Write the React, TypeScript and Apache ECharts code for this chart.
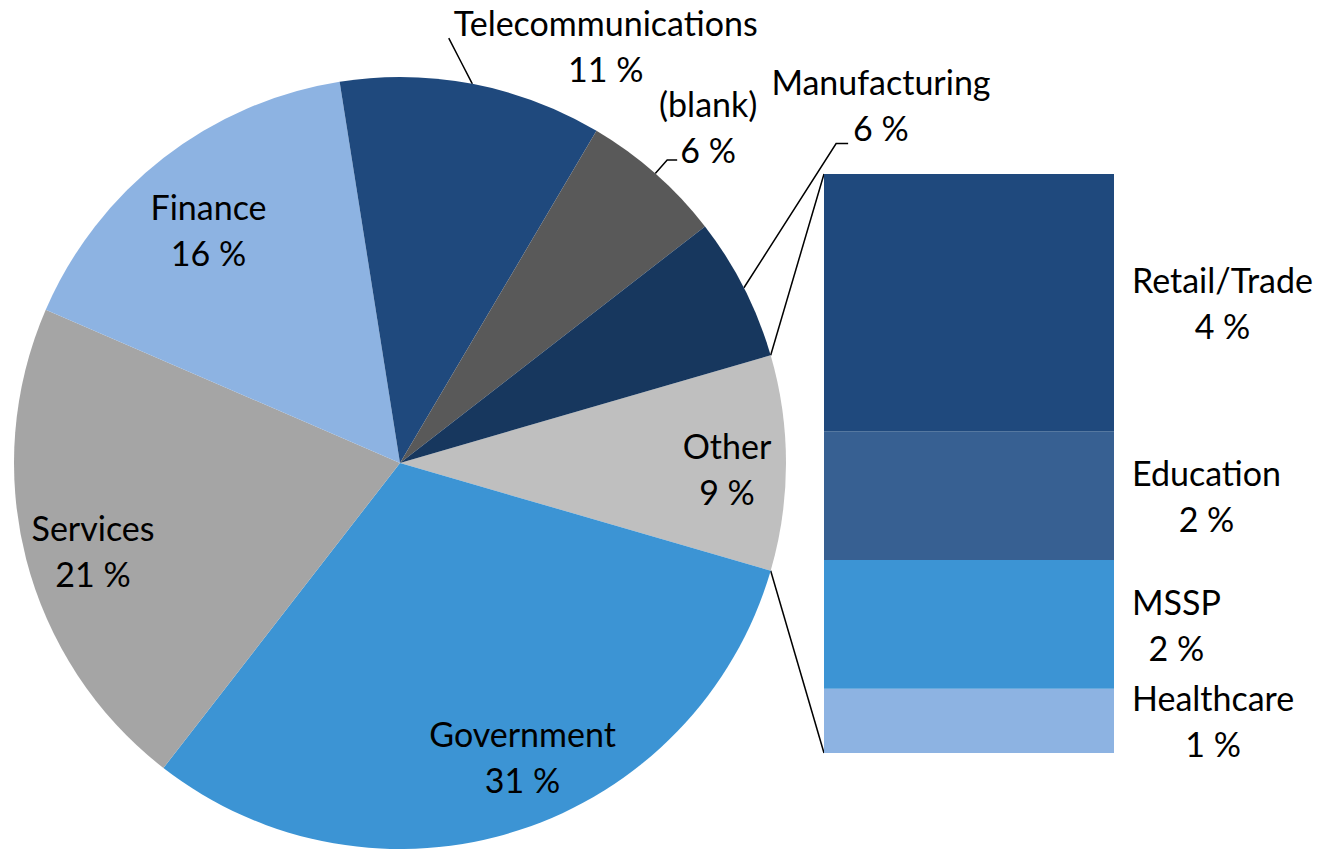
import React, { useEffect, useRef } from 'react';
import * as echarts from 'echarts';

// ---------- data ----------
const pieNames = ['Other', 'Government', 'Services', 'Finance', 'Telecommunications', '(blank)', 'Manufacturing'];
const pieValues = [9, 31, 21, 16, 11, 6, 6];
const pieColors = ['#BFBFBF', '#3C94D4', '#A5A5A5', '#8DB3E2', '#1F497D', '#595959', '#17375E'];

const otherNames = ['Healthcare', 'MSSP', 'Education', 'Retail/Trade'];
const otherValues = [1, 2, 2, 4];
const otherColors = ['#8DB3E2', '#3C94D4', '#376092', '#1F497D'];

const outsideLabelNames = ['Telecommunications', '(blank)', 'Manufacturing'];
const insideLabelNames = ['Other', 'Government', 'Services', 'Finance'];

// ---------- layout / style ----------
const WIDTH = 1327;
const HEIGHT = 849;
const PIE_CX = 400;
const PIE_CY = 463;
const PIE_R = 386;
const LABEL_RING_R0 = 246;
const GRID = { left: 824, top: 174, width: 290, height: 579 };
const FONT = 'Lato';
const FONT_SIZE = 34;
const LINE_H = 46;

// centre of outside label block relative to ECharts' default anchor; line = text line the leader line points to
const outsideTweak: Record<string, { cx: number; cy: number; line: number }> = {
  Telecommunications: { cx: 115, cy: -21, line: 0 },
  '(blank)': { cx: 26, cy: -33, line: -1 },
  Manufacturing: { cx: 106, cy: -175, line: 1 },
};
const insideTweak: Record<string, [number, number]> = {
  Finance: [4, 19],
  Services: [2, 8],
  Government: [24, -10],
  Other: [8, 5],
};

const pieTotal = pieValues.reduce((a, b) => a + b, 0);
const otherTotal = otherValues.reduce((a, b) => a + b, 0);
const otherIdx = pieNames.indexOf('Other');
const startAngle = (pieValues[otherIdx] / pieTotal) * 180;

const pct = (v: number) => `${Math.round((v / pieTotal) * 100)} %`;

const rich = {
  c: { align: 'center', fontFamily: FONT, fontSize: FONT_SIZE, lineHeight: LINE_H, color: '#000' },
};
const labelFormatter = (p: any) => `{c|${p.name}}\n{c|${pct(p.value)}}`;

let measureCtx: CanvasRenderingContext2D | null = null;
function textWidth(s: string): number {
  if (!measureCtx) measureCtx = document.createElement('canvas').getContext('2d');
  if (!measureCtx) return s.length * FONT_SIZE * 0.5;
  measureCtx.font = `${FONT_SIZE}px ${FONT}`;
  return measureCtx.measureText(s).width;
}

export default function App() {
  const ref = useRef<HTMLDivElement>(null);

  useEffect(() => {
    if (!ref.current) return;
    document.body.style.margin = '0';
    const chart = echarts.init(ref.current, null, { renderer: 'svg' });

    const pieData = pieNames.map((n, i) => {
      const out = outsideLabelNames.includes(n);
      return {
        name: n,
        value: pieValues[i],
        itemStyle: { color: pieColors[i] },
        label: { show: out },
        labelLine: { show: out },
      };
    });

    const ringData = pieNames.map((n, i) => {
      const ins = insideLabelNames.includes(n);
      return {
        name: n,
        value: pieValues[i],
        itemStyle: { color: 'rgba(0,0,0,0)' },
        label: { show: ins },
      };
    });

    const barSeries = otherNames.map((n, i) => ({
      type: 'bar',
      name: n,
      stack: 'other',
      barWidth: '100%',
      silent: true,
      data: [otherValues[i]],
      itemStyle: { color: otherColors[i] },
      label: {
        show: true,
        position: 'right',
        distance: 18,
        formatter: () => `{c|${n}}\n{c|${pct(otherValues[i])}}`,
        rich,
      },
    }));

    // connector lines between the "Other" slice and the bar of its breakdown
    const a1 = (startAngle * Math.PI) / 180;
    const a2 = ((startAngle - (pieValues[otherIdx] / pieTotal) * 360) * Math.PI) / 180;
    const pTop = [PIE_CX + PIE_R * Math.cos(a1), PIE_CY - PIE_R * Math.sin(a1)];
    const pBot = [PIE_CX + PIE_R * Math.cos(a2), PIE_CY - PIE_R * Math.sin(a2)];
    const barTopY = GRID.top;
    const barBotY = GRID.top + GRID.height;

    const option: any = {
      animation: false,
      backgroundColor: '#ffffff',
      tooltip: { show: false },
      grid: { left: GRID.left, top: GRID.top, width: GRID.width, height: GRID.height, containLabel: false },
      xAxis: { type: 'category', data: [''], show: false },
      yAxis: { type: 'value', min: 0, max: otherTotal, show: false },
      graphic: [
        {
          type: 'line',
          silent: true,
          shape: { x1: pTop[0], y1: pTop[1], x2: GRID.left, y2: barTopY },
          style: { stroke: '#000', lineWidth: 1.5 },
        },
        {
          type: 'line',
          silent: true,
          shape: { x1: pBot[0], y1: pBot[1], x2: GRID.left, y2: barBotY },
          style: { stroke: '#000', lineWidth: 1.5 },
        },
      ],
      series: [
        {
          type: 'pie',
          center: [PIE_CX, PIE_CY],
          radius: PIE_R,
          startAngle,
          clockwise: true,
          avoidLabelOverlap: false,
          silent: true,
          emphasis: { disabled: true },
          data: pieData,
          label: { position: 'outside', formatter: labelFormatter, rich, distanceToLabelLine: 5 },
          labelLine: { length: 18, length2: 10, lineStyle: { color: '#000', width: 1.5 } },
          labelLayout: (p: any) => {
            const name = pieNames[p.dataIndex];
            const t = outsideTweak[name];
            if (!t || !p.labelRect) return {};
            const r = p.labelRect;
            const ax = r.x;
            const ay = r.y + r.height / 2;
            const ncx = ax + t.cx;
            const ncy = ay + t.cy;
            const dx = t.cx - r.width / 2;
            const dy = t.cy;
            if (t.line < 0 || !p.labelLinePoints) return { dx, dy };
            const lineText = t.line === 0 ? name : pct(pieValues[p.dataIndex]);
            const lw = textWidth(lineText);
            const top = ncy - r.height / 2;
            const ey = top + LINE_H * t.line + LINE_H / 2 + 10;
            const ex = ncx - lw / 2 - 5;
            const s = p.labelLinePoints[0];
            const pts =
              t.line === 0
                ? [[s[0], s[1]], [(s[0] + ex) / 2, (s[1] + ey) / 2], [ex, ey]]
                : [[s[0], s[1]], [ex - 12, ey], [ex, ey]];
            return { dx, dy, labelLinePoints: pts };
          },
        },
        {
          type: 'pie',
          center: [PIE_CX, PIE_CY],
          radius: [LABEL_RING_R0, PIE_R],
          startAngle,
          clockwise: true,
          avoidLabelOverlap: false,
          silent: true,
          emphasis: { disabled: true },
          data: ringData,
          label: { position: 'inside', formatter: labelFormatter, rich },
          labelLine: { show: false },
          labelLayout: (p: any) => {
            const t = insideTweak[pieNames[p.dataIndex]];
            if (!t) return {};
            return { dx: t[0], dy: t[1] };
          },
        },
        ...barSeries,
      ],
    };

    chart.setOption(option);

    return () => chart.dispose();
  }, []);

  return (
    <div style={{ position: 'fixed', left: 0, top: 0, width: WIDTH, height: HEIGHT, background: '#fff' }}>
      <div ref={ref} style={{ width: WIDTH, height: HEIGHT }} />
    </div>
  );
}
